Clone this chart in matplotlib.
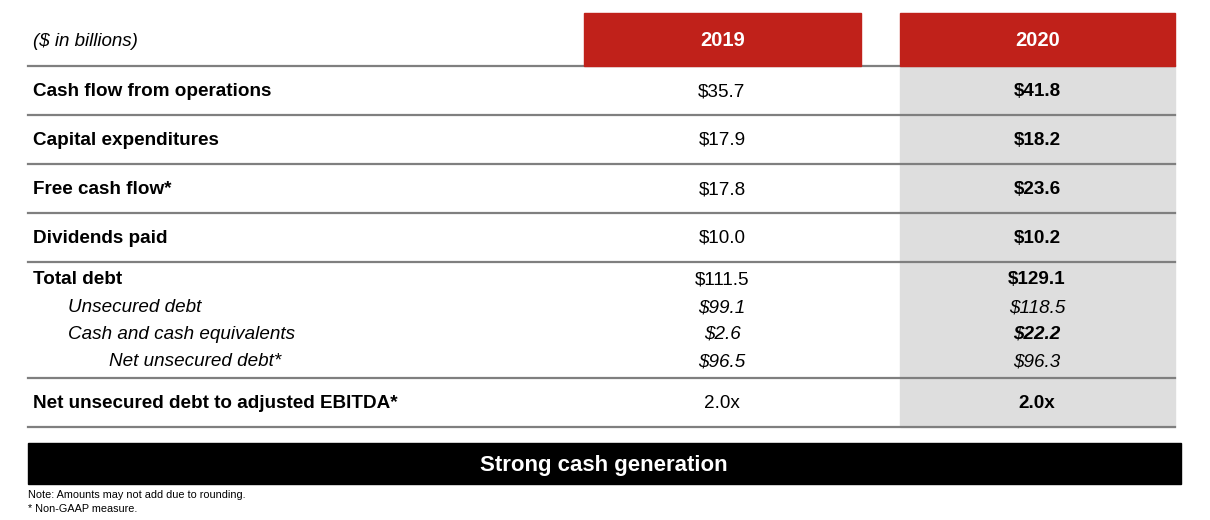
import matplotlib.pyplot as plt
from matplotlib.patches import Rectangle

plt.rcParams['font.family'] = ['Liberation Sans', 'DejaVu Sans']

years = ['2019', '2020']
row_labels = ['Cash flow from operations', 'Capital expenditures', 'Free cash flow*',
              'Dividends paid', 'Total debt', 'Unsecured debt',
              'Cash and cash equivalents', 'Net unsecured debt*',
              'Net unsecured debt to adjusted EBITDA*']
vals_2019 = ['$35.7', '$17.9', '$17.8', '$10.0', '$111.5', '$99.1', '$2.6', '$96.5', '2.0x']
vals_2020 = ['$41.8', '$18.2', '$23.6', '$10.2', '$129.1', '$118.5', '$22.2', '$96.3', '2.0x']
indent = [0, 0, 0, 0, 0, 1, 1, 2, 0]
label_style = ['bold', 'bold', 'bold', 'bold', 'bold', 'italic', 'italic', 'italic', 'bold']
style_2019 = ['normal'] * 5 + ['italic'] * 3 + ['normal']
style_2020 = ['bold'] * 5 + ['italic', 'bolditalic', 'italic', 'bold']

row_y = [90, 139, 188, 237, 278, 306, 333, 360, 402]
line_y = [66, 115, 164, 213, 262, 378, 427]

red = '#c0211a'
grey = '#dedede'

fig = plt.figure(figsize=(12.1, 5.2), dpi=100)
ax = fig.add_axes([0, 0, 1, 1])
ax.set_xlim(0, 1210)
ax.set_ylim(520, 0)
ax.axis('off')

col_x = [(584, 861), (900, 1175)]
# grey column for 2020
ax.add_patch(Rectangle((900, 66), 275, 361, color=grey, zorder=0))
for (x0, x1), yr in zip(col_x, years):
    ax.add_patch(Rectangle((x0, 13), x1 - x0, 53, color=red, zorder=2))
    ax.text((x0 + x1) / 2, 40.5, yr, color='white', fontsize=14.5, fontweight='bold',
            ha='center', va='center', zorder=3)

for y in line_y:
    ax.plot([28, 1175], [y, y], color='#7f7f7f', lw=1.6, zorder=1)

ax.text(33, 41, '($ in billions)', fontsize=13.5, fontstyle='italic', va='center')


def fmt(style):
    return dict(fontweight='bold' if 'bold' in style else 'normal',
                fontstyle='italic' if 'italic' in style else 'normal')


dy = 1.5  # small nudge so the cap height sits centred like the reference
for i, lab in enumerate(row_labels):
    y = row_y[i] + dy
    x = 33 + [0, 35, 76][indent[i]]
    ax.text(x, y, lab, fontsize=13.6, va='center', **fmt(label_style[i]))
    ax.text(722, y, vals_2019[i], fontsize=13.6, ha='center', va='center', **fmt(style_2019[i]))
    ax.text(1037, y, vals_2020[i], fontsize=13.6, ha='center', va='center', **fmt(style_2020[i]))

ax.add_patch(Rectangle((28, 443), 1153, 41, color='black'))
ax.text(604, 465, 'Strong cash generation', color='white', fontsize=16, fontweight='bold',
        ha='center', va='center')

ax.text(28, 495, 'Note: Amounts may not add due to rounding.', fontsize=7.8, va='center')
ax.text(28, 508.5, '* Non-GAAP measure.', fontsize=7.8, va='center')

fig.savefig('out.png', dpi=100)
